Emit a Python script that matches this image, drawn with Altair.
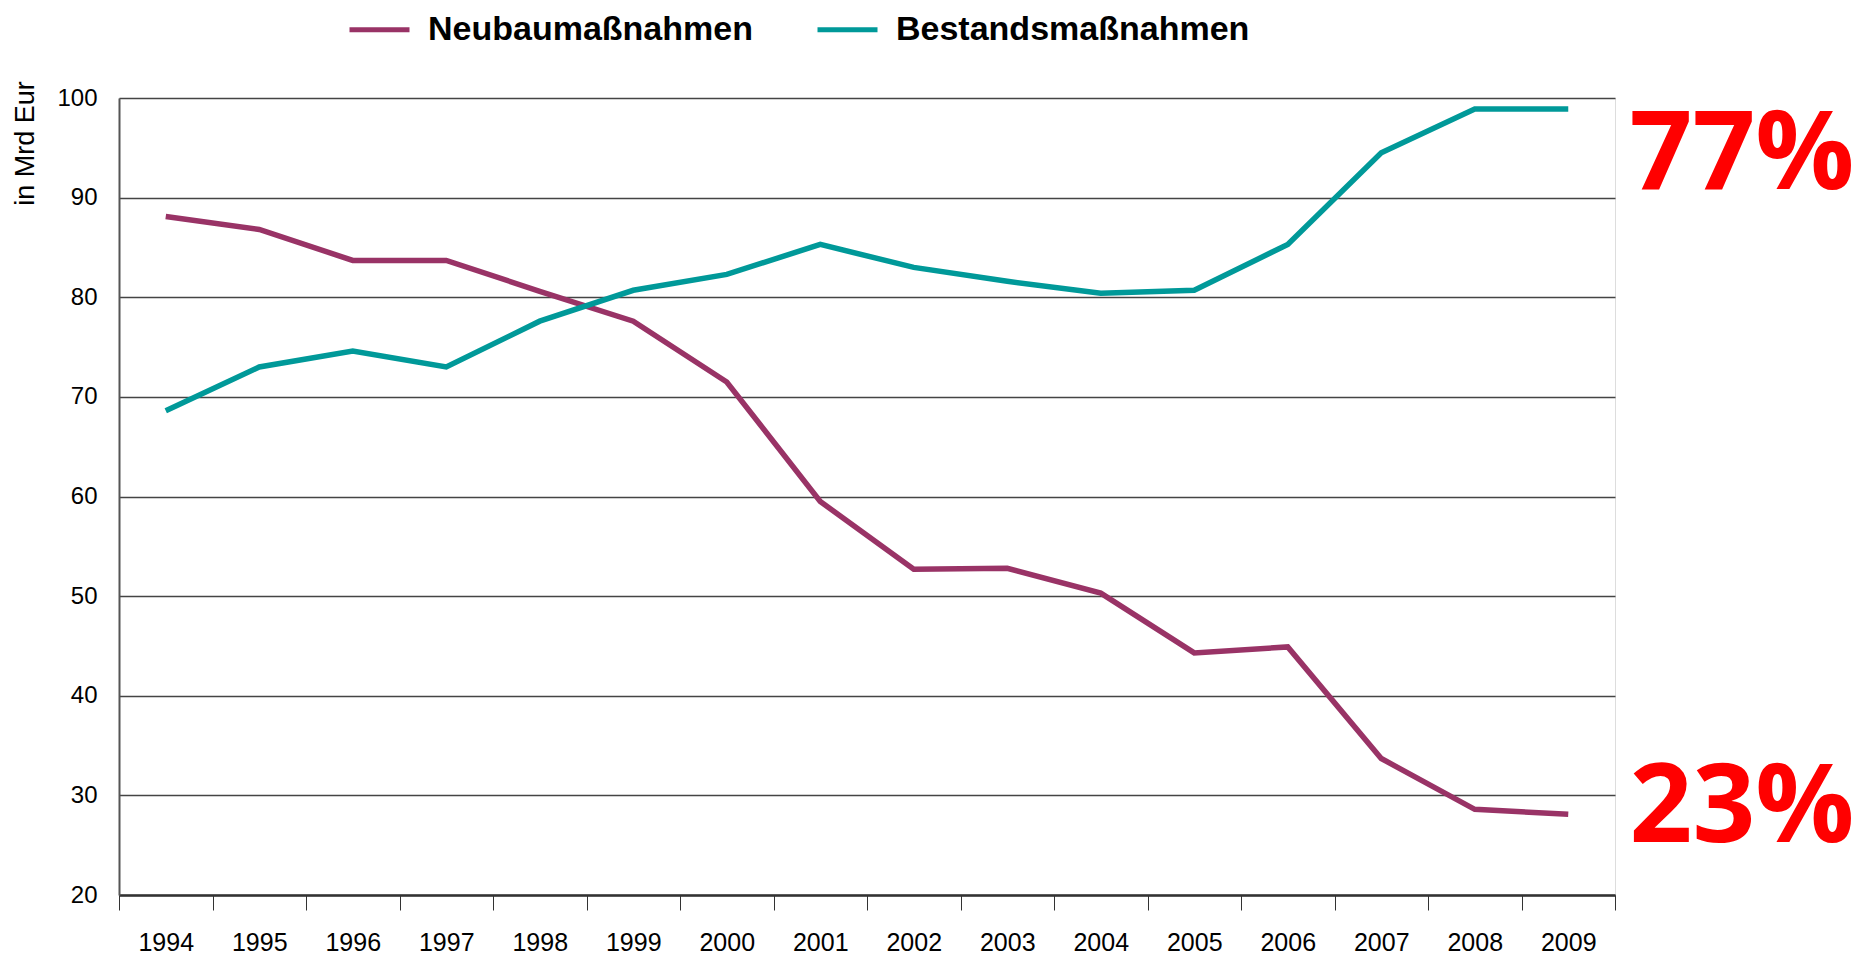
import altair as alt
import pandas as pd

years = [str(y) for y in range(1994, 2010)]
neubau = [88.1, 86.8, 83.7, 83.7, 80.6, 77.6, 71.5, 59.5, 52.7, 52.8, 50.3, 44.3, 44.9, 33.7, 28.6, 28.1]
bestand = [68.6, 73.0, 74.6, 73.0, 77.6, 80.7, 82.3, 85.3, 83.0, 81.6, 80.4, 80.7, 85.3, 94.5, 98.9, 98.9]
series_names = ["Neubaumaßnahmen", "Bestandsmaßnahmen"]
series_colors = ["#993366", "#009999"]
share_labels = ["77%", "23%"]
share_y = [94.2, 28.6]

rows = []
for name, vals in zip(series_names, [neubau, bestand]):
    for yr, v in zip(years, vals):
        rows.append({"Jahr": yr, "Wert": v, "Serie": name})
df = pd.DataFrame(rows)
ann = pd.DataFrame({"label": share_labels, "Wert": share_y})

W, H = 1496, 797
FONT = "Liberation Sans, Arial, Helvetica, sans-serif"

x_enc = alt.X(
    "Jahr:O",
    scale=alt.Scale(type="band", domain=years, paddingInner=0, paddingOuter=0),
    axis=alt.Axis(
        title=None, labelAngle=0, labelFont=FONT, labelFontSize=25, labelColor="#000000",
        labelBaseline="alphabetic",
        tickBand="extent", tickSize=15, tickColor="#333333", tickWidth=1,
        labelPadding=40, domainColor="#333333", domainWidth=2.5, grid=False,
    ),
)
y_scale = alt.Scale(domain=[20, 100], zero=False, nice=False)
y_enc = alt.Y(
    "Wert:Q",
    scale=y_scale,
    axis=alt.Axis(
        title="in Mrd Eur", titleFont=FONT, titleFontSize=27, titleFontWeight="normal",
        titleColor="#000000", titleAngle=270, titleX=-94, titleY=45,
        titleAlign="center", titleBaseline="middle",
        values=list(range(20, 101, 10)), ticks=False, labelPadding=22,
        labelFont=FONT, labelFontSize=24, labelColor="#000000",
        grid=True, gridColor="#444444", gridWidth=1.5,
        domainColor="#555555", domainWidth=2,
    ),
)

lines = alt.Chart(df).mark_line(strokeWidth=5.5).encode(
    x=x_enc,
    y=y_enc,
    color=alt.Color(
        "Serie:N",
        scale=alt.Scale(domain=series_names, range=series_colors),
        legend=alt.Legend(
            title=None, orient="none", legendX=228, legendY=-101, direction="horizontal",
            symbolType="stroke", symbolSize=3600, symbolStrokeWidth=5,
            labelFont=FONT, labelFontSize=34, labelFontWeight="bold", labelColor="#000000",
            labelOffset=16, columnPadding=54, labelLimit=800,
        ),
    ),
)

texts = alt.Chart(ann).mark_text(
    font="Open Sans", fontSize=110, fontWeight="bold", color="#FF0000",
    align="center", baseline="middle",
).encode(
    x=alt.value(W + 127),
    y=alt.Y("Wert:Q", scale=y_scale),
    text="label:N",
)

chart = alt.layer(lines, texts).properties(
    width=W, height=H,
    autosize=alt.AutoSizeParams(type="none"),
    padding={"left": 111, "top": 90, "right": 245, "bottom": 63},
).configure_view(stroke=None).configure(background="white")

chart.save("out.html", embed_options={"renderer": "svg", "actions": False})
